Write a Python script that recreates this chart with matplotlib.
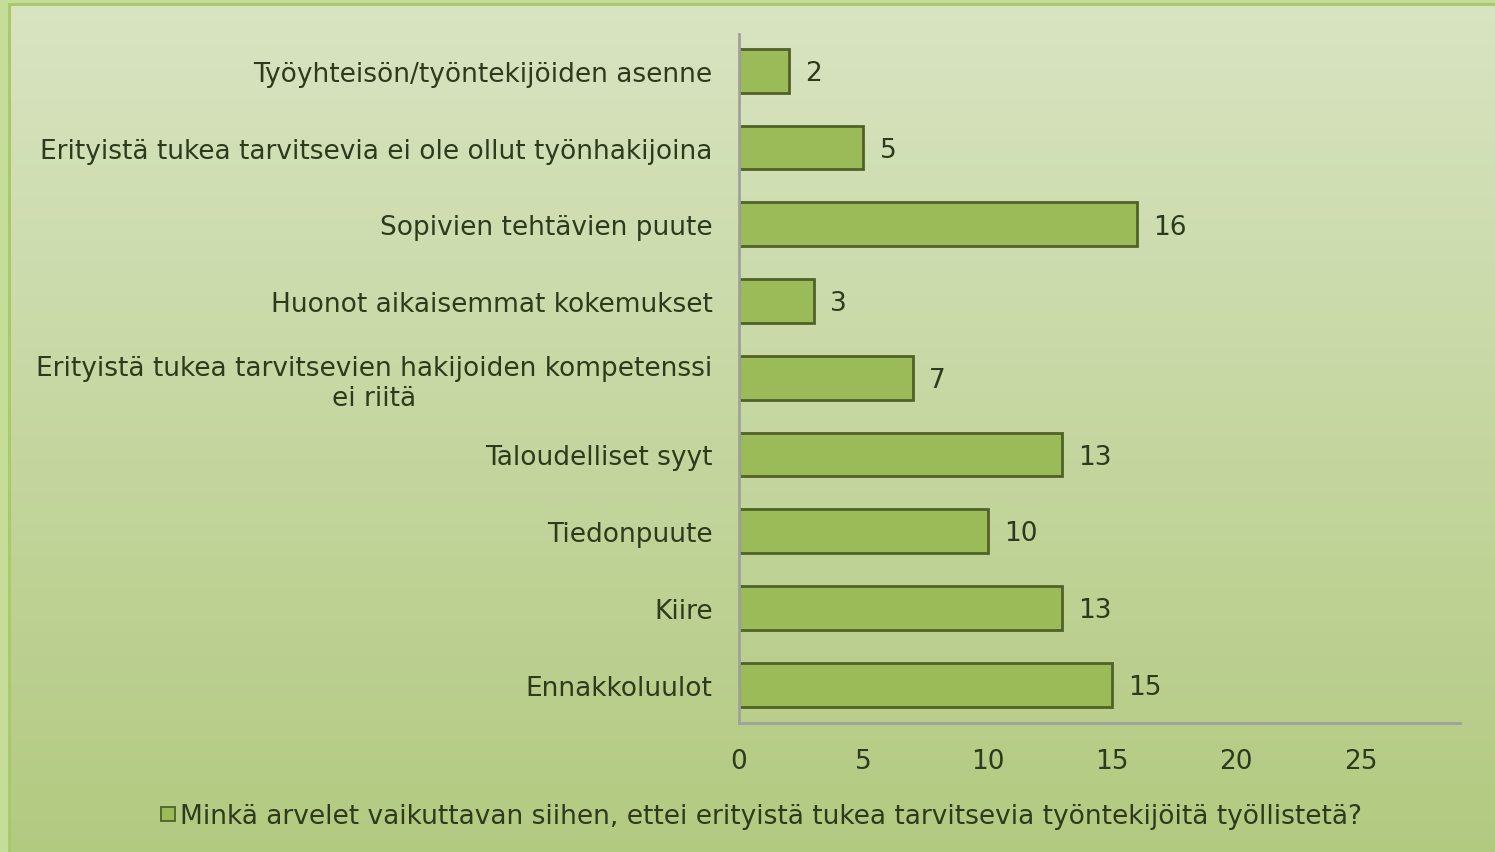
import matplotlib
matplotlib.use("Agg")
import matplotlib.pyplot as plt
import numpy as np
from matplotlib.patches import Rectangle
from matplotlib.lines import Line2D

categories = [
    "Työyhteisön/työntekijöiden asenne",
    "Erityistä tukea tarvitsevia ei ole ollut työnhakijoina",
    "Sopivien tehtävien puute",
    "Huonot aikaisemmat kokemukset",
    "Erityistä tukea tarvitsevien hakijoiden kompetenssi\nei riitä",
    "Taloudelliset syyt",
    "Tiedonpuute",
    "Kiire",
    "Ennakkoluulot",
]
values = [2, 5, 16, 3, 7, 13, 10, 13, 15]
xticks = [0, 5, 10, 15, 20, 25]
legend_label = "Minkä arvelet vaikuttavan siihen, ettei erityistä tukea tarvitsevia työntekijöitä työllistetä?"

TEXT = "#2e3a1c"
FACE = "#9bbb59"
EDGE = "#4f6228"
FS = 19

plt.rcParams['font.family'] = ['DejaVu Sans']

fig = plt.figure(figsize=(14.95, 8.53), dpi=100)

# gradient background
bg = fig.add_axes([0, 0, 1, 1], zorder=-10)
top = np.array([0xd9, 0xe4, 0xc2]) / 255
bot = np.array([0xb2, 0xca, 0x80]) / 255
t = np.linspace(0, 1, 256)[:, None]
grad = top[None, :] * (1 - t) + bot[None, :] * t
bg.imshow(grad[:, None, :], aspect='auto', extent=[0, 1, 0, 1], origin='upper')
bg.set_xlim(0, 1); bg.set_ylim(0, 1)
bg.axis('off')
# border
W, H = 1495, 853
bg.add_patch(Rectangle((0, 0), 9 / W, 1, color="#c6dd9a", lw=0))
bg.add_patch(Rectangle((0, 1 - 5 / H), 1, 5 / H, color="#c6dd9a", lw=0))
bg.add_patch(Rectangle((9 / W, -0.01), 1.1, 1 - 5 / H + 0.01, fill=False, ec="#a9c96b", lw=2.2))

ax = fig.add_axes([739 / W, 1 - 724 / H, (1460 - 739) / W, (724 - 35) / H])
ax.patch.set_alpha(0)
y = np.arange(len(categories))
ax.barh(y, values, height=0.57, color=FACE, edgecolor=EDGE, linewidth=2, label=legend_label)
ax.set_xlim(0, 29)
ax.set_ylim(len(categories) - 0.5, -0.48)
ax.set_yticks(y)
ax.set_yticklabels(categories, fontsize=FS, color=TEXT, multialignment='center', linespacing=1.2)
ax.set_xticks(xticks)
ax.set_xticklabels([str(v) for v in xticks], fontsize=FS, color=TEXT)
ax.tick_params(axis='both', length=0)
ax.tick_params(axis='y', pad=19)
ax.tick_params(axis='x', pad=18)
for s in ['top', 'right']:
    ax.spines[s].set_visible(False)
for s in ['left', 'bottom']:
    ax.spines[s].set_color("#a0a29a")
    ax.spines[s].set_linewidth(2)

for yi, v in zip(y, values):
    ax.text(v + 0.65, yi + 0.03, str(v), va='center', ha='left', fontsize=FS, color=TEXT)

handle = Line2D([], [], marker='s', markersize=9.5, markerfacecolor=FACE, markeredgecolor=EDGE,
                markeredgewidth=1.3, linestyle='none')
fig.legend([handle], [legend_label], loc='center', bbox_to_anchor=(0.508, 1 - 817 / H),
           frameon=False, fontsize=FS, handletextpad=0.05, handlelength=0.8, labelcolor=TEXT)

fig.savefig("out.png", dpi=100)
